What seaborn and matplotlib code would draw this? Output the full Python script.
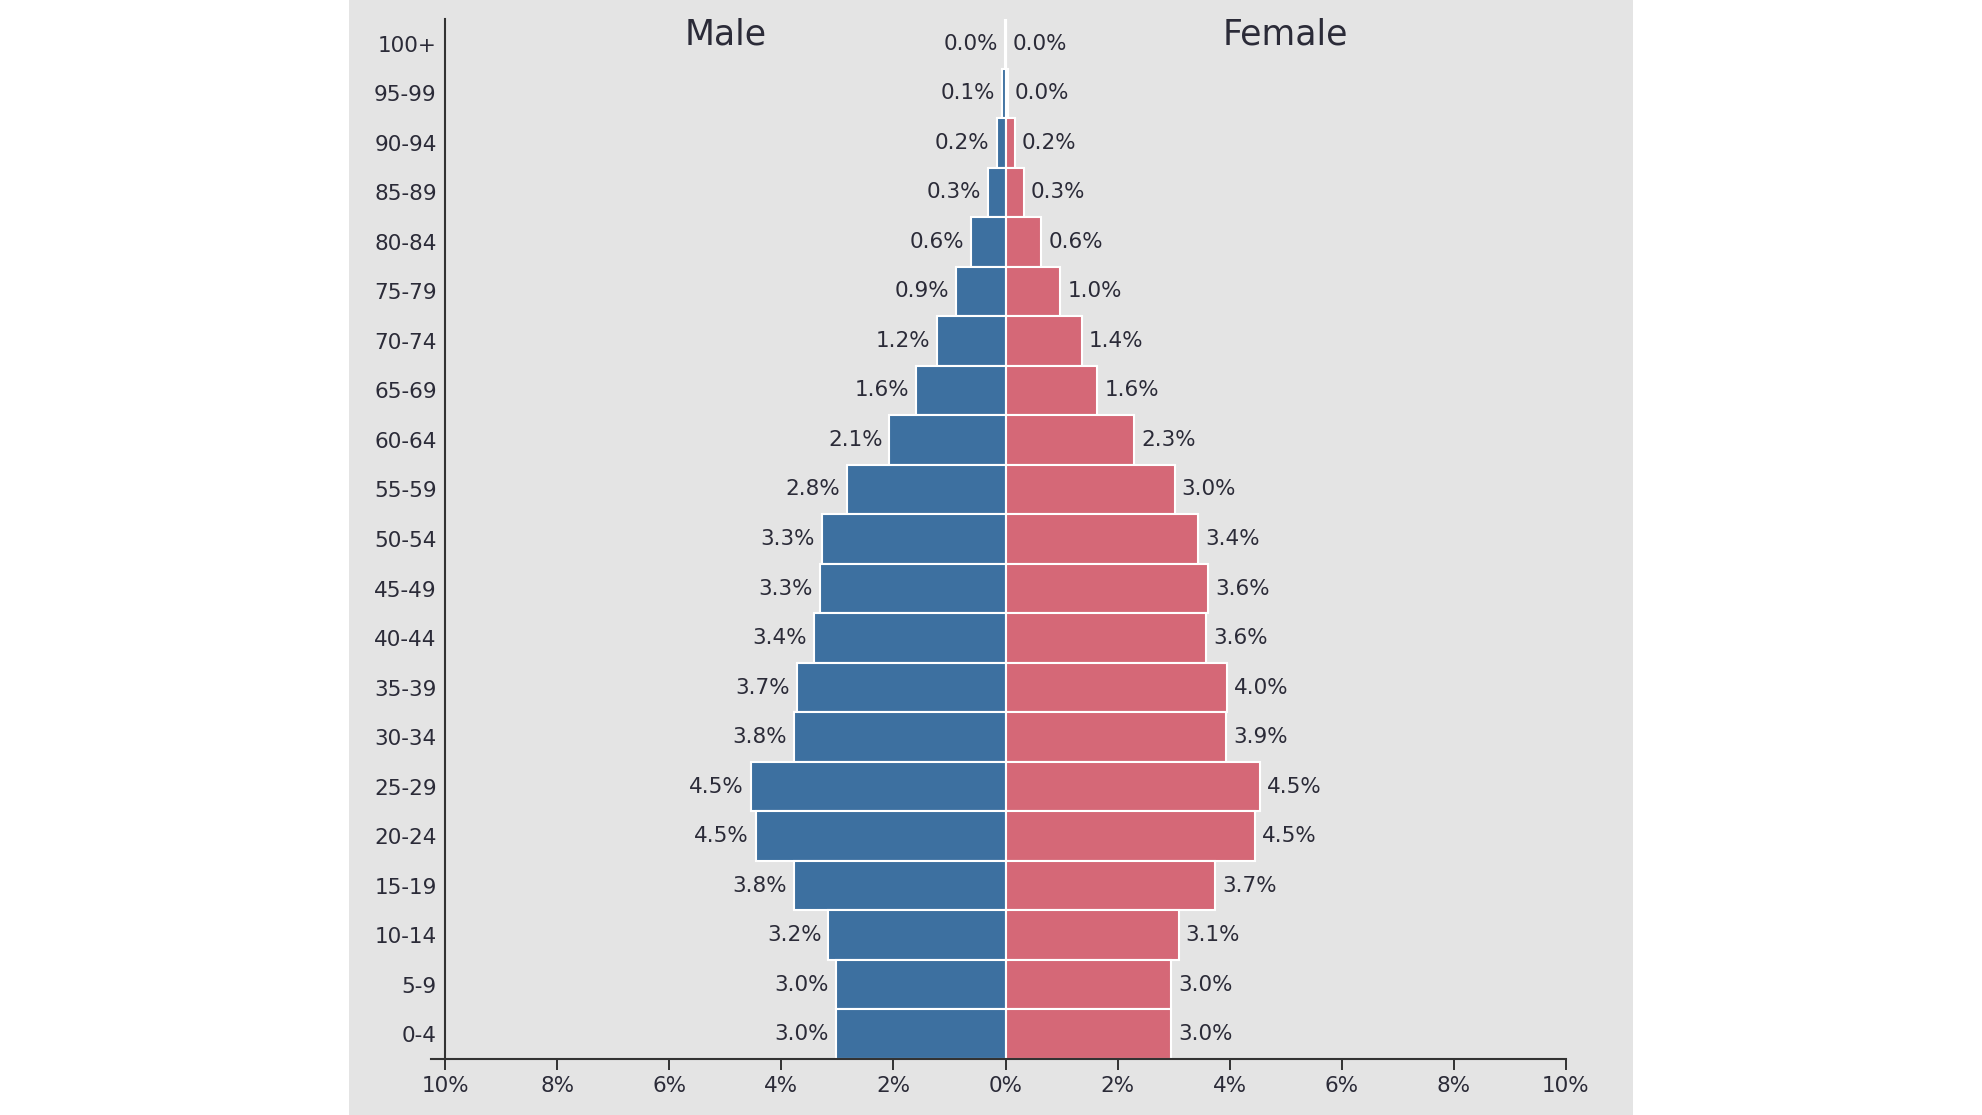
import numpy as np
import pandas as pd
import matplotlib.pyplot as plt
import seaborn as sns
from matplotlib.patches import Rectangle

ages = ['100+', '95-99', '90-94', '85-89', '80-84', '75-79', '70-74', '65-69',
        '60-64', '55-59', '50-54', '45-49', '40-44', '35-39', '30-34', '25-29',
        '20-24', '15-19', '10-14', '5-9', '0-4']
male = [0.01, 0.06, 0.16, 0.32, 0.62, 0.88, 1.22, 1.60, 2.07, 2.82, 3.27, 3.31,
        3.41, 3.72, 3.77, 4.54, 4.46, 3.77, 3.16, 3.03, 3.03]
female = [0.01, 0.04, 0.17, 0.33, 0.64, 0.98, 1.36, 1.64, 2.30, 3.02, 3.44, 3.62,
          3.58, 3.95, 3.94, 4.54, 4.46, 3.74, 3.09, 2.96, 2.96]
xticks = [-10, -8, -6, -4, -2, 0, 2, 4, 6, 8, 10]

df = pd.DataFrame({'age': ages, 'male': male, 'female': female})
df['male_neg'] = -df['male']

blue = '#3d70a0'
pink = '#d56877'
bg = '#e4e4e4'
txt = '#2b2b38'

sns.set_style('white')
plt.rcParams['font.family'] = ['DejaVu Sans']

fig = plt.figure(figsize=(19.82, 11.15), dpi=100, facecolor='white')
fig.patches.append(Rectangle((349 / 1982, 0), (1633 - 349) / 1982, 1,
                             transform=fig.transFigure, facecolor=bg,
                             edgecolor='none', zorder=-10))
ax = fig.add_axes([431 / 1982, 1 - 1059 / 1115, (1566 - 431) / 1982, (1059 - 19) / 1115])
ax.set_facecolor('none')

sns.barplot(data=df, x='male_neg', y='age', order=ages, color=blue, width=1.0,
            edgecolor='white', linewidth=1.5, errorbar=None, orient='h',
            saturation=1, ax=ax)
sns.barplot(data=df, x='female', y='age', order=ages, color=pink, width=1.0,
            edgecolor='white', linewidth=1.5, errorbar=None, orient='h',
            saturation=1, ax=ax)

ax.bar_label(ax.containers[0], labels=[f'{v:.1f}%' for v in male], padding=5,
             fontsize=15.5, color=txt)
ax.bar_label(ax.containers[1], labels=[f'{v:.1f}%' for v in female], padding=5,
             fontsize=15.5, color=txt)

ax.set_xlim(-10.25, 10)
ax.set_ylim(20.5, -0.5)
ax.set_xticks(xticks)
ax.set_xticklabels([f'{abs(t)}%' for t in xticks])
ax.set_xlabel('')
ax.set_ylabel('')

for s in ['top', 'right']:
    ax.spines[s].set_visible(False)
ax.spines['left'].set_position(('data', -10))
ax.spines['left'].set_color('#333333')
ax.spines['bottom'].set_color('#333333')
ax.spines['left'].set_linewidth(1.5)
ax.spines['bottom'].set_linewidth(1.5)

ax.tick_params(axis='x', bottom=True, direction='out', length=8, width=1.4,
               color='#333333', labelsize=15.5, labelcolor=txt, pad=4)
ax.tick_params(axis='y', length=0, labelsize=15.5, labelcolor=txt, pad=6)

ax.text(-5, -0.18, 'Male', ha='center', va='center', fontsize=25, color=txt)
ax.text(5, -0.18, 'Female', ha='center', va='center', fontsize=25, color=txt)

fig.savefig('out.png', dpi=100, facecolor='white')
